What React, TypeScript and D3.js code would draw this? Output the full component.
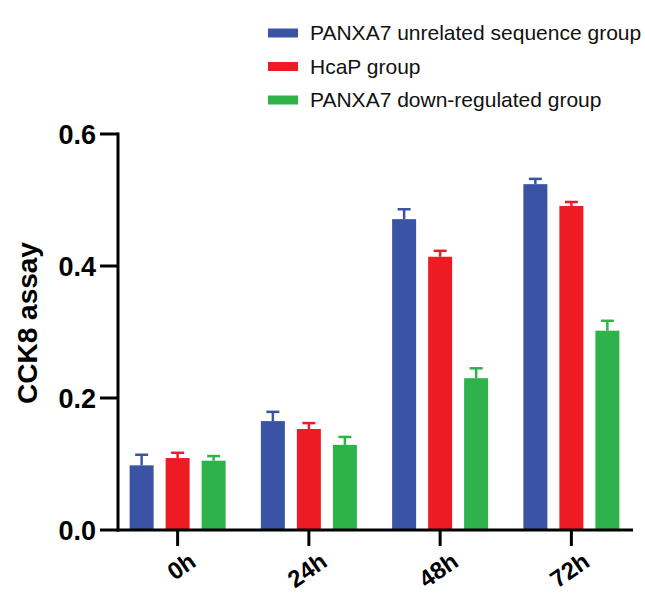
import React from 'react';
import * as d3 from 'd3';

const categories = ['0h', '24h', '48h', '72h'];
const seriesNames = ['PANXA7 unrelated sequence group', 'HcaP group', 'PANXA7 down-regulated group'];
const seriesColors = ['#3A53A4', '#ED1C24', '#2DB34A'];
const unrelatedMeans = [0.098, 0.165, 0.471, 0.524];
const unrelatedErr = [0.016, 0.014, 0.015, 0.008];
const hcapMeans = [0.109, 0.153, 0.414, 0.491];
const hcapErr = [0.008, 0.009, 0.009, 0.006];
const downMeans = [0.105, 0.129, 0.230, 0.302];
const downErr = [0.007, 0.012, 0.015, 0.015];
const yTicks = [0.0, 0.2, 0.4, 0.6];

const W = 645;
const H = 597;

const App = () => {
  const means = [unrelatedMeans, hcapMeans, downMeans];
  const errs = [unrelatedErr, hcapErr, downErr];

  // y: 0 -> 530, 0.6 -> 134
  const y = d3.scaleLinear().domain([0, 0.6]).range([530, 134]);
  const x = d3.scaleBand().domain(categories).range([112, 637]);
  const xSub = d3.scaleBand().domain(seriesNames).range([-48, 48]).paddingInner(1 / 3);

  const axisX = 118;
  const font = 'Arial, "Liberation Sans", Helvetica, sans-serif';

  return (
    <svg width={W} height={H} style={{ position: 'absolute', left: 0, top: 0, background: '#fff' }}
      fontFamily={font}>
      {/* bars + error bars */}
      {seriesNames.map((s, si) => (
        <g key={s}>
          {categories.map((c, ci) => {
            const cx = x(c)! + x.bandwidth() / 2;
            const bx = cx + xSub(s)!;
            const bw = xSub.bandwidth();
            const v = means[si][ci];
            const e = errs[si][ci];
            const mid = bx + bw / 2;
            return (
              <g key={c}>
                <line x1={mid} x2={mid} y1={y(v)} y2={y(v + e)} stroke={seriesColors[si]} strokeWidth={2.5} />
                <line x1={mid - 6.5} x2={mid + 6.5} y1={y(v + e)} y2={y(v + e)} stroke={seriesColors[si]} strokeWidth={2.5} />
                <rect x={bx} y={y(v)} width={bw} height={y(0) - y(v)} fill={seriesColors[si]} />
              </g>
            );
          })}
        </g>
      ))}

      {/* y axis */}
      <line x1={axisX} x2={axisX} y1={y(0.6) - 1.5} y2={y(0) + 1.5} stroke="#000" strokeWidth={3} />
      {yTicks.map(t => (
        <g key={t}>
          <line x1={axisX - 18} x2={axisX} y1={y(t)} y2={y(t)} stroke="#000" strokeWidth={3} />
          <text x={axisX - 22} y={y(t)} dy="0.36em" textAnchor="end" fontSize={27} fontWeight="bold">
            {d3.format('.1f')(t)}
          </text>
        </g>
      ))}
      <text transform={`translate(37, 323) rotate(-90)`} textAnchor="middle" fontSize={28} fontWeight="bold">
        CCK8 assay
      </text>

      {/* x axis */}
      <line x1={axisX - 1.5} x2={633} y1={y(0)} y2={y(0)} stroke="#000" strokeWidth={3} />
      {categories.map(c => {
        const cx = x(c)! + x.bandwidth() / 2;
        return (
          <g key={c}>
            <line x1={cx} x2={cx} y1={y(0)} y2={y(0) + 16} stroke="#000" strokeWidth={3} />
            <text transform={`translate(${cx + 20}, 565) rotate(-35)`} textAnchor="end"
              fontSize={24} fontWeight="bold">
              {c}
            </text>
          </g>
        );
      })}

      {/* legend */}
      {seriesNames.map((s, i) => (
        <g key={s} transform={`translate(268, ${33 + i * 33.5})`}>
          <rect x={0} y={-4.5} width={30} height={9} fill={seriesColors[i]} />
          <text x={42} y={0} dy="0.35em" fontSize={21} fill="#111">{s}</text>
        </g>
      ))}
    </svg>
  );
};

export default App;
